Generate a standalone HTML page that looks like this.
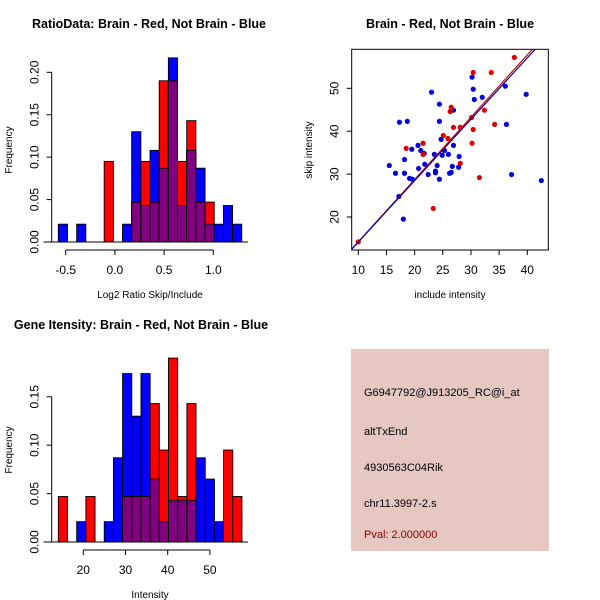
<!DOCTYPE html>
<html><head><meta charset="utf-8"><style>
html,body{margin:0;padding:0;background:#fff}
svg{display:block;font-family:"Liberation Sans",sans-serif}
</style></head><body>
<svg id="s" width="600" height="600" xmlns="http://www.w3.org/2000/svg">
<rect width="600" height="600" fill="#fff"/>
<g id="p1"></g>
<g id="p2"></g>
<g id="p3"></g>
<g>
<rect x="351" y="349" width="198" height="202" fill="#e5c8c1"/>
<text x="364" y="396" font-size="11" fill="#000">G6947792@J913205_RC@i_at</text>
<text x="364" y="435" font-size="11" fill="#000">altTxEnd</text>
<text x="364" y="471" font-size="11" fill="#000">4930563C04Rik</text>
<text x="364" y="507" font-size="11" fill="#000">chr11.3997-2.s</text>
<text x="364" y="538" font-size="11" fill="#8b0000">Pval: 2.000000</text>
</g>
</svg>
<script>
// Ratio histogram data
const ratioBinStart = -0.575;
const ratioBinWidth = 0.0932;
const ratioBlue = [0.021,0,0.021,0,0,0,0,0.021,0.13,0.043,0.108,0.087,0.217,0.043,0.108,0.087,0.021,0.021,0.043,0.021];
const ratioRed  = [0,0,0,0,0,0.095,0,0,0.047,0.095,0.047,0.19,0.19,0.095,0.143,0.047,0.047,0,0,0];
const ratioXTicks = [-0.5,0.0,0.5,1.0];
const ratioXLabels = ["-0.5","0.0","0.5","1.0"];
const ratioYTicks = [0,0.05,0.10,0.15,0.20];
const ratioYLabels = ["0.00","0.05","0.10","0.15","0.20"];
// Gene intensity histogram data
const intBinStart = 14.08;
const intBinWidth = 2.176;
const intBlue = [0,0,0.021,0,0,0.021,0.087,0.174,0.13,0.174,0.065,0.021,0.043,0.043,0.043,0.087,0.065,0.021,0,0];
const intRed  = [0.047,0,0,0.047,0,0,0,0.047,0.047,0.047,0.143,0.095,0.19,0.047,0.143,0,0,0,0.095,0.047];
const intXTicks = [20,30,40,50];
const intXLabels = ["20","30","40","50"];
const intYTicks = [0,0.05,0.10,0.15];
const intYLabels = ["0.00","0.05","0.10","0.15"];
// Scatter data
const blueX = [15.5,16.6,17.2,17.3,18.0,18.2,18.2,18.7,19.1,19.5,19.6,20.6,20.7,21.1,21.7,21.8,22.4,23.0,23.5,23.7,23.7,24.0,24.4,24.4,24.4,24.7,24.9,25.3,26.0,26.2,26.5,26.7,26.9,26.9,27.8,27.9,30.2,30.4,30.6,32.0,36.1,36.3,37.2,39.8,42.5];
const blueY = [32.0,30.2,24.8,42.1,19.5,33.4,30.2,42.3,29.0,35.8,28.8,36.7,31.3,35.5,34.8,32.3,29.9,49.1,34.6,30.7,30.3,32.0,46.3,42.3,28.8,38.1,34.4,35.5,34.6,30.2,30.4,31.8,44.9,36.7,31.6,34.1,52.6,49.8,47.4,47.9,50.5,41.6,29.9,48.6,28.5];
const redX = [10.0,18.5,21.5,21.5,23.3,25.1,25.9,26.3,26.5,26.9,28.1,28.1,30.1,30.2,30.4,30.4,31.5,32.4,33.6,34.2,37.7];
const redY = [14.2,36.0,37.2,34.6,22.0,39.0,38.3,44.6,45.6,40.9,40.9,32.5,43.2,37.2,53.7,40.4,29.2,44.9,53.7,41.6,57.2];
const redFit = [-0.33,1.453];
const blueFit = [-0.14,1.431];
const scXTicks = [10,15,20,25,30,35,40];
const scYTicks = [20,30,40,50];

const NS="http://www.w3.org/2000/svg";
function mk(parent,tag,attrs){const e=document.createElementNS(NS,tag);for(const k in attrs)e.setAttribute(k,attrs[k]);parent.appendChild(e);return e;}

function hist(g,o){
  const xs=v=>o.x0+(v-o.v0)*o.xk, ys=v=>o.y0-v*o.yk;
  const t=mk(g,'text',{x:o.tx,y:o.ty,'font-size':o.tfs,'font-weight':'bold','text-anchor':'middle'});
  t.textContent=o.title;
  
  
  for(let i=0;i<o.blue.length;i++){
    const a=xs(o.start+i*o.w), b=xs(o.start+(i+1)*o.w);
    const bl=o.blue[i], rd=o.red[i], mn=Math.min(bl,rd);
    if(bl>0){const r=mk(g,'rect',{x:a,y:ys(bl),width:b-a,height:ys(0)-ys(bl),fill:'#0000ff',stroke:'#000','stroke-width':0.9});
      
      }
    if(rd>0){const r=mk(g,'rect',{x:a,y:ys(rd),width:b-a,height:ys(0)-ys(rd),fill:'#ff0000',stroke:'#000','stroke-width':0.9});
      
      }
    if(mn>0){const r=mk(g,'rect',{x:a,y:ys(mn),width:b-a,height:ys(0)-ys(mn),fill:'#800080',stroke:'#000','stroke-width':0.9});
      
      }
  }
  mk(g,'line',{x1:o.baseL,x2:o.baseR,y1:ys(0),y2:ys(0),stroke:'#000'});
  const ax=o.y0+8;
  mk(g,'line',{x1:xs(o.xt[0]),x2:xs(o.xt[o.xt.length-1]),y1:ax,y2:ax,stroke:'#000'});
  o.xt.forEach((v,i)=>{mk(g,'line',{x1:xs(v),x2:xs(v),y1:ax,y2:ax+5,stroke:'#000'});
    const l=mk(g,'text',{x:xs(v),y:ax+24,'font-size':12,'text-anchor':'middle'});l.textContent=o.xl[i];
    
    });
  const yx=o.yAxisX;
  mk(g,'line',{x1:yx,x2:yx,y1:ys(o.yt[0]),y2:ys(o.yt[o.yt.length-1]),stroke:'#000'});
  o.yt.forEach((v,i)=>{mk(g,'line',{x1:yx-5,x2:yx,y1:ys(v),y2:ys(v),stroke:'#000'});
    const lx=yx-13;
    const l=mk(g,'text',{x:lx,y:ys(v),'font-size':12,'text-anchor':'middle',transform:`rotate(-90 ${lx} ${ys(v)})`});l.textContent=o.yl[i];
    
    });
  const xt=mk(g,'text',{x:o.xtitleX,y:o.xtitleY,'font-size':10,'text-anchor':'middle'});xt.textContent=o.xtitle;
  
  
  const yt=mk(g,'text',{x:12,y:o.ymid,'font-size':10,'text-anchor':'middle',transform:`rotate(-90 12 ${o.ymid})`});yt.textContent='Frequency';
  
  
}

hist(document.getElementById('p1'),{x0:114.9,v0:0,xk:98.4,y0:242,yk:848.5,start:ratioBinStart,w:ratioBinWidth,
  blue:ratioBlue,red:ratioRed,xt:ratioXTicks,xl:ratioXLabels,yt:ratioYTicks,yl:ratioYLabels,yAxisX:51.7,
  baseL:43.5,baseR:248,title:'RatioData: Brain - Red, Not Brain - Blue',tx:149,ty:28,tfs:12.5,
  xtitle:'Log2 Ratio Skip/Include',xtitleX:150,xtitleY:298,ymid:150});
hist(document.getElementById('p3'),{x0:83.3,v0:20,xk:4.22,y0:542,yk:968,start:intBinStart,w:intBinWidth,
  blue:intBlue,red:intRed,xt:intXTicks,xl:intXLabels,yt:intYTicks,yl:intYLabels,yAxisX:51.7,
  baseL:43.5,baseR:248,title:'Gene Itensity: Brain - Red, Not Brain - Blue',tx:141,ty:329,tfs:12.5,
  xtitle:'Intensity',xtitleX:150,xtitleY:598,ymid:450});

(function(){
  const g=document.getElementById('p2');
  const L=351.7,R=548.3,T=49.3,B=250;
  const xs=v=>358.3+(v-10)*5.633, ys=v=>217-(v-20)*4.289;
  const t=mk(g,'text',{x:450,y:28,'font-size':12.5,'font-weight':'bold','text-anchor':'middle'});t.textContent='Brain - Red, Not Brain - Blue';
  
  
  mk(g,'defs',{}).innerHTML='<clipPath id="cp"><rect x="'+L+'" y="'+T+'" width="'+(R-L)+'" height="'+(B-T)+'"/></clipPath>';
  mk(g,'rect',{x:L,y:T,width:R-L,height:B-T,fill:'none',stroke:'#000'});
  blueX.forEach((v,i)=>{const c=mk(g,'circle',{cx:xs(v),cy:ys(blueY[i]),r:2.6,fill:'#0000dd'});
    
    });
  redX.forEach((v,i)=>{const c=mk(g,'circle',{cx:xs(v),cy:ys(redY[i]),r:2.6,fill:'#dd0000'});
    
    });
  [[redFit,'#cc0000'],[blueFit,'#0000aa']].forEach(([f,c])=>{
    const l=mk(g,'line',{x1:xs(5),y1:ys(f[0]+f[1]*5),x2:xs(50),y2:ys(f[0]+f[1]*50),stroke:c,'stroke-width':1.2,'clip-path':'url(#cp)'});
    
    });
  scXTicks.forEach(v=>{mk(g,'line',{x1:xs(v),x2:xs(v),y1:B,y2:B+5,stroke:'#000'});
    const l=mk(g,'text',{x:xs(v),y:B+24,'font-size':12,'text-anchor':'middle'});l.textContent=v;
    
    });
  scYTicks.forEach(v=>{mk(g,'line',{x1:L-5,x2:L,y1:ys(v),y2:ys(v),stroke:'#000'});
    const lx=L-13;
    const l=mk(g,'text',{x:lx,y:ys(v),'font-size':12,'text-anchor':'middle',transform:`rotate(-90 ${lx} ${ys(v)})`});l.textContent=v;
    
    });
  const xt=mk(g,'text',{x:450,y:298,'font-size':10,'text-anchor':'middle'});xt.textContent='include intensity';
  
  
  const yt=mk(g,'text',{x:312,y:150,'font-size':10,'text-anchor':'middle',transform:'rotate(-90 312 150)'});yt.textContent='skip intensity';
  
  
})();
</script>
</body></html>
